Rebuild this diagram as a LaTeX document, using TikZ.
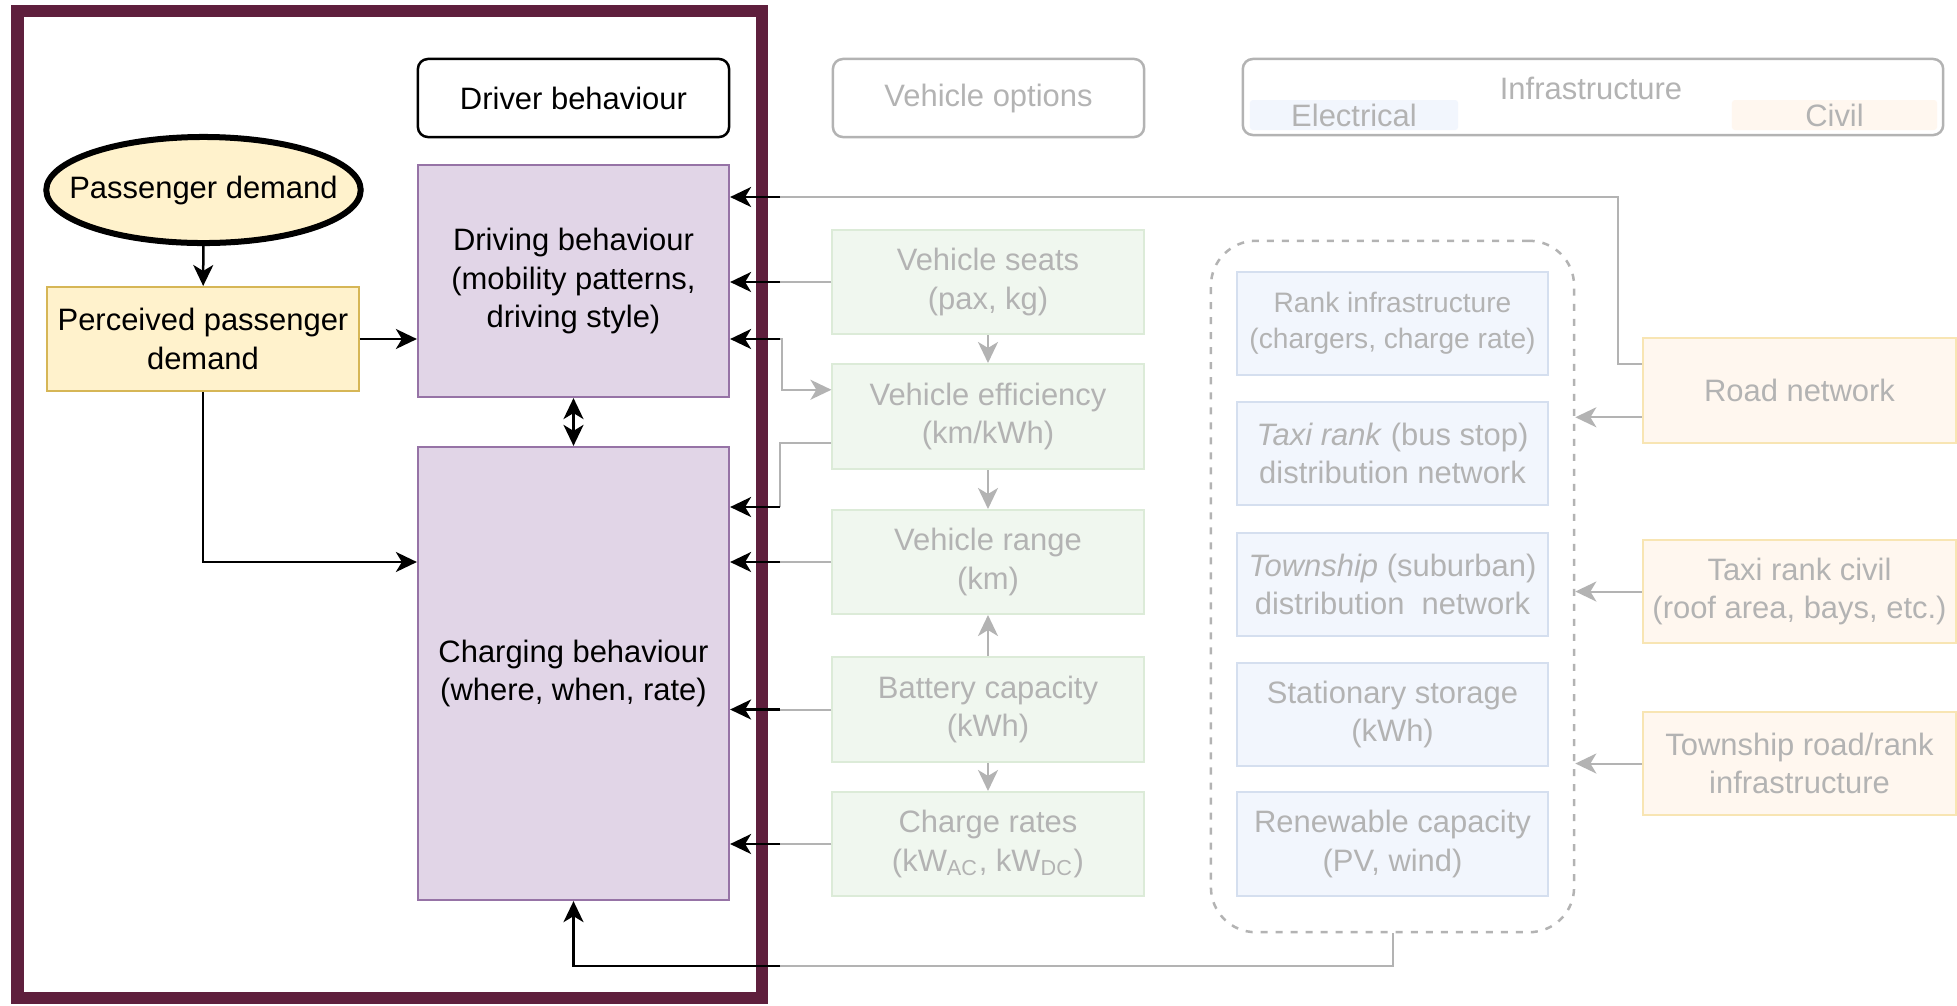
\documentclass[tikz,border=0pt]{standalone}
\usepackage{fontspec}
\setmainfont{Liberation Sans}
\usetikzlibrary{arrows.meta,calc,shapes.geometric}

\definecolor{framecol}{HTML}{5F1F3D}
\definecolor{purplefill}{HTML}{E1D5E7}
\definecolor{purpleline}{HTML}{9673A6}
\definecolor{yellowfill}{HTML}{FFF2CC}
\definecolor{yellowline}{HTML}{D6B656}
\definecolor{fadetext}{HTML}{B3B3B3}
\definecolor{fadeline}{HTML}{B3B3B3}
\definecolor{greenfill}{HTML}{F0F7EF}
\definecolor{greenline}{HTML}{DCEBD8}
\definecolor{bluefill}{HTML}{F2F6FD}
\definecolor{blueline}{HTML}{D5DFEF}
\definecolor{civilfill}{HTML}{FFF7EF}
\definecolor{civilline}{HTML}{F8E5B3}

\begin{document}
\begin{tikzpicture}[x=0.01cm,y=-0.01cm,>={Stealth[length=0.21cm,width=0.2cm,inset=0.06cm]},
  every node/.style={font=\fontsize{8.8}{11}\selectfont,align=center,inner sep=0pt},
  box/.style={draw,line width=0.02cm,minimum width=3.11cm,minimum height=1.04cm},
  head/.style={draw,rounded corners=0.1cm,line width=0.025cm,minimum width=3.11cm,minimum height=0.78cm},
  fadehead/.style={head,draw=fadeline,text=fadetext},
  driver/.style={box,fill=purplefill,draw=purpleline},
  demand/.style={box,fill=yellowfill,draw=yellowline},
  vehbox/.style={box,fill=greenfill,draw=greenline,text=fadetext},
  elecbox/.style={box,fill=bluefill,draw=blueline,text=fadetext},
  civbox/.style={box,fill=civilfill,draw=civilline,text=fadetext,minimum width=3.13cm},
  patch/.style={rounded corners=0.03cm,minimum height=0.3cm,text=fadetext},
  bline/.style={line width=0.025cm},
  gline/.style={fadeline,line width=0.02cm}]

\path[use as bounding box,fill=white] (0,0) rectangle (1957,1005);

\draw[framecol,line width=0.12cm] (17.5,11) rectangle (762,998);

\node[head]   (dhead)   at (573.5,98)   {Driver behaviour};
\node[ellipse,draw,line width=0.06cm,fill=yellowfill,inner xsep=-0.23cm,minimum width=3.11cm,minimum height=1.06cm]
              (pd)      at (203.5,190)  {Passenger demand};
\node[demand] (perc)    at (203,339)    {Perceived passenger\\demand};
\node[driver,minimum height=2.32cm] (drive)  at (573.5,281)   {Driving behaviour\\(mobility patterns,\\driving style)};
\node[driver,minimum height=4.53cm] (charge) at (573.5,673.5) {Charging behaviour\\(where, when, rate)};

\node[fadehead] (vhead) at (988.5,98) {Vehicle options};
\node[vehbox]   (seats) at (988,282)   {Vehicle seats\\(pax, kg)};
\node[vehbox,minimum height=1.05cm] (eff)  at (988,416.5) {Vehicle efficiency\\(km/kWh)};
\node[vehbox]   (range) at (988,562)   {Vehicle range\\(km)};
\node[vehbox,minimum height=1.05cm] (batt) at (988,709.5) {Battery capacity\\(kWh)};
\node[vehbox]   (rates) at (988,844)   {Charge rates\\(kW\textsubscript{AC}, kW\textsubscript{DC})};

\node[fadehead,minimum width=7cm,minimum height=0.76cm] (ihead) at (1593,97) {};
\node[text=fadetext] (infra) at (1591,88) {Infrastructure};
\node[patch,fill=bluefill,minimum width=2.08cm]  (elec)  at (1354,115)  {Electrical};
\node[patch,fill=civilfill,minimum width=2.05cm] (civil) at (1834.5,115) {Civil};

\node[draw=fadeline,dash pattern=on 0.07cm off 0.08cm,line width=0.025cm,rounded corners=0.45cm,
      minimum width=3.63cm,minimum height=6.91cm] (group) at (1392.5,586.5) {};
\node[elecbox,minimum height=1.03cm,font=\fontsize{8}{10.3}\selectfont] (rank) at (1392.5,323.5) {Rank infrastructure\\(chargers, charge rate)};
\node[elecbox,minimum height=1.03cm] (taxi)  at (1392.5,453.5) {\textit{Taxi rank} (bus stop)\\distribution network};
\node[elecbox,minimum height=1.03cm] (town)  at (1392.5,584.5) {\textit{Township} (suburban)\\distribution~\ network};
\node[elecbox,minimum height=1.03cm] (stor)  at (1392.5,714.5) {Stationary storage\\(kWh)};
\node[elecbox]                       (renew) at (1392.5,844)   {Renewable capacity\\(PV, wind)};

\node[civbox,minimum height=1.05cm] (road)   at (1799.5,390.5) {Road network};
\node[civbox,minimum height=1.03cm] (tcivil) at (1799.5,591.5) {Taxi rank civil\\(roof area, bays, etc.)};
\node[civbox,minimum height=1.03cm] (troad)  at (1799.5,763.5) {Township road/rank\\infrastructure};

\coordinate (cut) at (780,0);
\coordinate (topy) at (1618,197);
\coordinate (chy) at (0,507);
\coordinate (low) at (0,966);
\coordinate (effin)   at ($(eff.north west)!0.25!(eff.south west)$);
\coordinate (effout)  at ($(eff.north west)!0.75!(eff.south west)$);
\coordinate (roadout) at ($(road.north west)!0.25!(road.south west)$);
\coordinate (roadin)  at ($(road.north west)!0.75!(road.south west)$);

\path[->,bline] (pd)   edge (perc)
                (perc) edge (drive.west |- perc.east);
\draw[->,bline] (perc.south) |- (charge.west |- range.west);
\draw[<->,bline] (drive) -- (charge);

\path[->,gline] (seats) edge (eff)
                (eff)   edge (range)
                (batt)  edge (range)
                (batt)  edge (rates);

\draw[gline] (roadout) -| (topy) -- (cut |- topy);
\draw[gline] (seats.west) -- (seats.west -| cut);
\draw[->,gline] (cut |- perc.east) -- ++(2,0) |- (effin);
\draw[gline] (effout) -| (cut |- chy);
\draw[gline] (range.west) -- (range.west -| cut);
\draw[gline] (batt.west) -- (batt.west -| cut);
\draw[gline] (rates.west) -- (rates.west -| cut);
\draw[gline] (group.south) |- (cut |- low);

\path[->,gline] (roadin) edge (roadin -| group.east)
                (tcivil) edge (tcivil -| group.east)
                (troad)  edge (troad -| group.east);

\path[->,bline] (cut |- topy)       edge (drive.east |- topy)
                (seats.west -| cut) edge (seats.west -| drive.east)
                (cut |- perc.east)  edge (drive.east |- perc.east)
                (cut |- chy)        edge (charge.east |- chy)
                (range.west -| cut) edge (range.west -| charge.east)
                (batt.west -| cut)  edge (batt.west -| charge.east)
                (rates.west -| cut) edge (rates.west -| charge.east);
\draw[->,bline] (cut |- low) -| (charge.south);

\end{tikzpicture}
\end{document}
